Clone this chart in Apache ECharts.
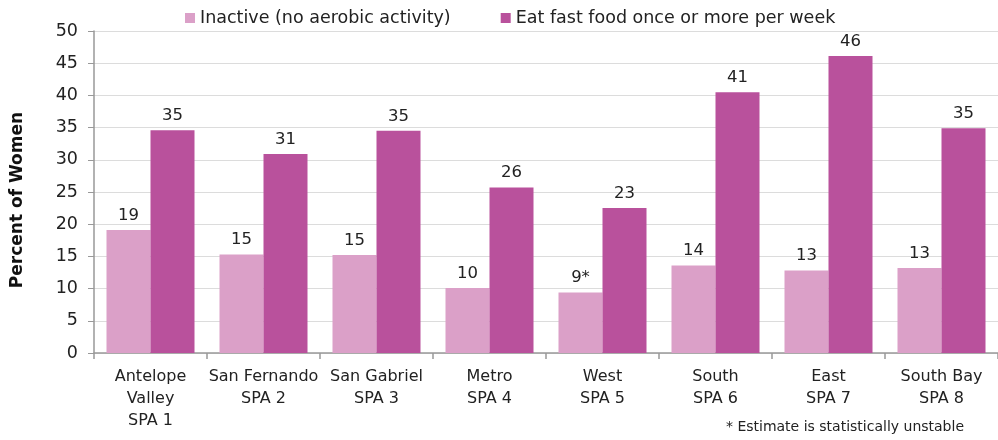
<!DOCTYPE html>
<html>
<head>
<meta charset="utf-8">
<script src="https://cdn.jsdelivr.net/npm/echarts@6/dist/echarts.min.js"></script>
<style>
  html, body { margin: 0; padding: 0; background: #fff; }
  #chart { width: 998px; height: 440px; }
</style>
</head>
<body>
<div id="chart"></div>
<script>
var myChart = echarts.init(document.getElementById('chart'));

// categories (SPA regions)
var regions = ['Antelope\nValley\nSPA 1', 'San Fernando\nSPA 2', 'San Gabriel\nSPA 3', 'Metro\nSPA 4',
               'West\nSPA 5', 'South\nSPA 6', 'East\nSPA 7', 'South Bay\nSPA 8'];
var seriesNames = ['Inactive (no aerobic activity)', 'Eat fast food once or more per week'];
// percent of women
var inactive = [19.1, 15.3, 15.2, 10.1, 9.4, 13.6, 12.8, 13.2];
var fastFood = [34.6, 30.9, 34.5, 25.7, 22.5, 40.5, 46.1, 34.9];
// estimates marked as statistically unstable (*)
var unstableInactive = [false, false, false, false, true, false, false, false];

var colors = ['#dba0c8', '#b9519c'];
var fontFamily = '"DejaVu Sans", sans-serif';

function labelOf(flags) {
    return function (p) {
        return Math.round(p.value) + (flags && flags[p.dataIndex] ? '*' : '');
    };
}

var option = {
    backgroundColor: '#fff',
    animation: false,
    textStyle: { fontFamily: fontFamily },
    legend: {
        data: seriesNames,
        top: 4,
        left: 180,
        itemWidth: 10,
        itemHeight: 10,
        itemGap: 50,
        icon: 'rect',
        textStyle: { color: '#222', fontSize: 17.5, fontFamily: fontFamily }
    },
    grid: {
        left: 94,
        right: -2,
        top: 31,
        bottom: 87
    },
    xAxis: {
        type: 'category',
        data: regions,
        axisLine: { lineStyle: { color: '#999', width: 1.5 } },
        axisTick: { show: true, length: 6, lineStyle: { color: '#999', width: 1.5 } },
        axisLabel: {
            color: '#222',
            fontSize: 16,
            lineHeight: 22,
            margin: 13,
            interval: 0,
            fontFamily: fontFamily
        }
    },
    yAxis: {
        type: 'value',
        min: 0,
        max: 50,
        interval: 5,
        axisLine: { show: true, lineStyle: { color: '#999', width: 1.5 } },
        axisTick: { show: true, length: 6, lineStyle: { color: '#999', width: 1 } },
        axisLabel: {
            color: '#222',
            fontSize: 17.5,
            margin: 16,
            fontFamily: fontFamily
        },
        splitLine: { lineStyle: { color: '#dcdcdc', width: 1.2 } }
    },
    series: [
        {
            name: seriesNames[0],
            type: 'bar',
            data: inactive,
            barWidth: 44,
            barGap: '0%',
            itemStyle: { color: colors[0] },
            label: {
                show: true,
                position: 'top',
                distance: 6,
                color: '#222',
                fontSize: 16.5,
                fontFamily: fontFamily,
                formatter: labelOf(unstableInactive)
            }
        },
        {
            name: seriesNames[1],
            type: 'bar',
            data: fastFood,
            barWidth: 44,
            barGap: '0%',
            itemStyle: { color: colors[1] },
            label: {
                show: true,
                position: 'top',
                distance: 6,
                color: '#222',
                fontSize: 16.5,
                fontFamily: fontFamily,
                formatter: labelOf(null)
            }
        }
    ],
    graphic: [
        {
            type: 'text',
            x: 18,
            y: 200,
            rotation: Math.PI / 2,
            style: {
                text: 'Percent of Women',
                fill: '#111',
                fontSize: 17,
                fontWeight: 'bold',
                fontFamily: fontFamily,
                align: 'center',
                verticalAlign: 'middle'
            }
        },
        {
            type: 'text',
            right: 34,
            top: 420,
            style: {
                text: '* Estimate is statistically unstable',
                fill: '#222',
                fontSize: 14,
                fontFamily: fontFamily
            }
        }
    ]
};

myChart.setOption(option);
</script>
</body>
</html>
